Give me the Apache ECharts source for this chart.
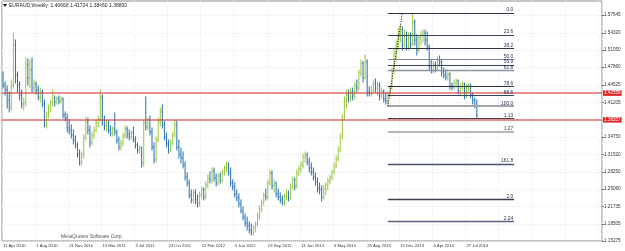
<!DOCTYPE html>
<html><head><meta charset="utf-8">
<script src="https://cdn.jsdelivr.net/npm/echarts@6/dist/echarts.min.js"></script>
<style>html,body{margin:0;padding:0;background:#fff}#c{width:625px;height:251px}</style>
</head><body><div id="c"></div>
<script>
// ---------- data (EURAUD weekly) ----------
const startDate = [2010, 3, 11]; // 11 Apr 2010, first visible weekly bar
const totalSlots = 290;          // visible bar slots incl. empty chart-shift area
const labelEvery = 16;           // a time label every 16 weeks

const opens = [
1.4641,1.4453,1.4360,1.4172,1.4022,1.4453,1.5203,1.4641,1.4453,1.4266,
1.4097,1.4116,1.4828,1.4585,1.4735,1.4397,1.4472,1.4360,1.4228,1.4322,
1.4097,1.3703,1.3891,1.4022,1.4116,1.4210,1.4135,1.4191,1.4153,1.4191,
1.3891,1.3835,1.3647,1.3610,1.3516,1.3422,1.3328,1.3160,1.3010,1.3141,
1.3460,1.3760,1.3610,1.3366,1.3516,1.3610,1.3741,1.3816,1.4228,1.3797,
1.3685,1.3741,1.3610,1.3553,1.3628,1.3572,1.3422,1.3291,1.3366,1.3497,
1.3628,1.3535,1.3478,1.3553,1.3422,1.3328,1.3235,1.3272,1.2991,1.3741,
1.3666,1.3797,1.3572,1.3291,1.3047,1.3422,1.3760,1.3947,1.3703,1.3478,
1.3347,1.3235,1.3366,1.3516,1.3703,1.3291,1.3141,1.3085,1.2953,1.2728,
1.2616,1.2391,1.2297,1.2428,1.2297,1.2241,1.2391,1.2485,1.2353,1.2578,
1.2710,1.2672,1.2841,1.2710,1.2616,1.2747,1.2672,1.2822,1.2897,1.2953,
1.2822,1.2616,1.2541,1.2410,1.2335,1.2222,1.2091,1.1978,1.1866,1.1810,
1.1735,1.1697,1.1772,1.1847,1.1997,1.2128,1.2241,1.2372,1.2353,1.2616,
1.2803,1.2560,1.2597,1.2410,1.2353,1.2297,1.2241,1.2372,1.2428,1.2335,
1.2541,1.2672,1.2560,1.2803,1.2878,1.2953,1.3103,1.3141,1.3010,1.2897,
1.2822,1.2728,1.2635,1.2522,1.2485,1.2353,1.2503,1.2560,1.2653,1.2728,
1.2822,1.2935,1.3066,1.3235,1.3478,1.3835,1.4172,1.4266,1.4210,1.4322,
1.4247,1.4435,1.4397,1.4678,1.4866,1.4585,1.4885,1.4322,1.4303,1.4360,
1.4491,1.4397,1.4453,1.4247,1.4341,1.4191,1.4153,1.4285,1.4397,1.4716,
1.5053,1.5222,1.5428,1.5485,1.5203,1.5391,1.5185,1.5335,1.5222,1.5635,
1.5297,1.5110,1.5335,1.5391,1.5428,1.5297,1.5166,1.4810,1.4735,1.4828,
1.4772,1.4922,1.4885,1.4697,1.4641,1.4603,1.4660,1.4435,1.4416,1.4491,
1.4528,1.4341,1.4416,1.4472,1.4247,1.4397,1.4435,1.4266,1.4172,1.40668];

const highs = [
1.4697,1.4510,1.4435,1.4322,1.4547,1.5428,1.5297,1.4697,1.4510,1.4360,
1.4210,1.4960,1.4941,1.4922,1.4960,1.4547,1.4510,1.4435,1.4397,1.4360,
1.4172,1.3947,1.4078,1.4172,1.4360,1.4247,1.4228,1.4247,1.4228,1.4210,
1.3947,1.3910,1.3797,1.3703,1.3610,1.3497,1.3366,1.3235,1.3197,1.3516,
1.3853,1.3835,1.3685,1.3572,1.3666,1.3797,1.3872,1.4360,1.4266,1.3872,
1.3797,1.3778,1.3685,1.3666,1.3928,1.3610,1.3478,1.3422,1.3553,1.3685,
1.3666,1.3610,1.3591,1.3666,1.3478,1.3366,1.3310,1.3291,1.3797,1.4228,
1.3835,1.3872,1.3647,1.3366,1.3478,1.3835,1.4022,1.4078,1.3778,1.3553,
1.3422,1.3422,1.3572,1.3797,1.3778,1.3422,1.3272,1.3197,1.3010,1.2803,
1.2672,1.2485,1.2485,1.2485,1.2391,1.2447,1.2541,1.2522,1.2635,1.2766,
1.2822,1.2897,1.2897,1.2785,1.2785,1.2803,1.2860,1.2935,1.3010,1.2991,
1.2897,1.2672,1.2616,1.2485,1.2410,1.2297,1.2166,1.2035,1.1978,1.1885,
1.1847,1.1810,1.1885,1.2053,1.2185,1.2297,1.2428,1.2503,1.2672,1.2860,
1.2841,1.2672,1.2635,1.2503,1.2428,1.2372,1.2410,1.2485,1.2466,1.2597,
1.2728,1.2710,1.2860,1.2935,1.3010,1.3160,1.3197,1.3178,1.3085,1.2991,
1.2897,1.2803,1.2710,1.2616,1.2560,1.2560,1.2616,1.2710,1.2766,1.2860,
1.2991,1.3122,1.3291,1.3535,1.3891,1.4228,1.4360,1.4360,1.4397,1.4397,
1.4491,1.4547,1.4735,1.4922,1.4885,1.5016,1.4922,1.4416,1.4435,1.4547,
1.4566,1.4510,1.4491,1.4397,1.4360,1.4303,1.4322,1.4435,1.4772,1.5110,
1.5297,1.5522,1.5560,1.5541,1.5485,1.5447,1.5428,1.5428,1.5803,1.5672,
1.5391,1.5372,1.5466,1.5485,1.5485,1.5447,1.5203,1.4922,1.4885,1.4885,
1.4978,1.4997,1.4922,1.4772,1.4735,1.4697,1.4678,1.4491,1.4547,1.4566,
1.4547,1.4472,1.4510,1.4491,1.4453,1.4472,1.4472,1.4303,1.4210,1.41724];

const lows = [
1.4397,1.4266,1.4022,1.3947,1.3985,1.4397,1.4491,1.4322,1.4172,1.4022,
1.3985,1.4060,1.4453,1.4397,1.4322,1.4322,1.4285,1.4172,1.4135,1.4041,
1.3666,1.3647,1.3835,1.3947,1.4060,1.4060,1.4097,1.4097,1.4116,1.3835,
1.3778,1.3572,1.3535,1.3460,1.3347,1.3272,1.3103,1.2953,1.2953,1.3085,
1.3422,1.3535,1.3291,1.3328,1.3460,1.3572,1.3666,1.3778,1.3703,1.3610,
1.3591,1.3553,1.3497,1.3497,1.3516,1.3366,1.3235,1.3235,1.3310,1.3460,
1.3460,1.3422,1.3441,1.3385,1.3272,1.3178,1.3178,1.2916,1.2935,1.3610,
1.3610,1.3516,1.3235,1.2991,1.3010,1.3385,1.3685,1.3647,1.3422,1.3291,
1.3178,1.3197,1.3328,1.3478,1.3235,1.3085,1.2991,1.2897,1.2672,1.2560,
1.2335,1.2241,1.2241,1.2222,1.2166,1.2185,1.2335,1.2297,1.2316,1.2522,
1.2616,1.2616,1.2653,1.2560,1.2578,1.2616,1.2635,1.2766,1.2822,1.2766,
1.2560,1.2485,1.2353,1.2278,1.2166,1.2053,1.1922,1.1810,1.1735,1.1678,
1.1641,1.1641,1.1697,1.1810,1.1941,1.2072,1.2203,1.2297,1.2316,1.2578,
1.2503,1.2447,1.2353,1.2297,1.2241,1.2203,1.2203,1.2297,1.2278,1.2316,
1.2503,1.2485,1.2522,1.2747,1.2822,1.2897,1.3010,1.2953,1.2822,1.2766,
1.2672,1.2578,1.2447,1.2410,1.2278,1.2316,1.2391,1.2485,1.2597,1.2672,
1.2785,1.2897,1.3028,1.3197,1.3441,1.3797,1.4022,1.4135,1.4153,1.4172,
1.4191,1.4322,1.4360,1.4622,1.4510,1.4566,1.4247,1.4247,1.4247,1.4303,
1.4322,1.4266,1.4172,1.4210,1.4135,1.4097,1.4055,1.4228,1.4360,1.4678,
1.4922,1.5110,1.5260,1.5110,1.5166,1.5110,1.5110,1.5147,1.5185,1.5203,
1.5016,1.5072,1.5203,1.5260,1.5203,1.5110,1.4735,1.4678,1.4678,1.4697,
1.4735,1.4810,1.4622,1.4585,1.4547,1.4547,1.4378,1.4360,1.4378,1.4416,
1.4285,1.4247,1.4360,1.4191,1.4210,1.4322,1.4210,1.4097,1.4022,1.38460];

const closes = [
1.4453,1.4360,1.4172,1.4022,1.4453,1.5203,1.4641,1.4453,1.4266,1.4097,
1.4116,1.4828,1.4585,1.4735,1.4397,1.4472,1.4360,1.4228,1.4322,1.4097,
1.3703,1.3891,1.4022,1.4116,1.4210,1.4135,1.4191,1.4153,1.4191,1.3891,
1.3835,1.3647,1.3610,1.3516,1.3422,1.3328,1.3160,1.3010,1.3141,1.3460,
1.3760,1.3610,1.3366,1.3516,1.3610,1.3741,1.3816,1.4228,1.3797,1.3685,
1.3741,1.3610,1.3553,1.3628,1.3572,1.3422,1.3291,1.3366,1.3497,1.3628,
1.3535,1.3478,1.3553,1.3422,1.3328,1.3235,1.3272,1.2991,1.3741,1.3666,
1.3797,1.3572,1.3291,1.3047,1.3422,1.3760,1.3947,1.3703,1.3478,1.3347,
1.3235,1.3366,1.3516,1.3703,1.3291,1.3141,1.3085,1.2953,1.2728,1.2616,
1.2391,1.2297,1.2428,1.2297,1.2241,1.2391,1.2485,1.2353,1.2578,1.2710,
1.2672,1.2841,1.2710,1.2616,1.2747,1.2672,1.2822,1.2897,1.2953,1.2822,
1.2616,1.2541,1.2410,1.2335,1.2222,1.2091,1.1978,1.1866,1.1810,1.1735,
1.1697,1.1772,1.1847,1.1997,1.2128,1.2241,1.2372,1.2353,1.2616,1.2803,
1.2560,1.2597,1.2410,1.2353,1.2297,1.2241,1.2372,1.2428,1.2335,1.2541,
1.2672,1.2560,1.2803,1.2878,1.2953,1.3103,1.3141,1.3010,1.2897,1.2822,
1.2728,1.2635,1.2522,1.2485,1.2353,1.2503,1.2560,1.2653,1.2728,1.2822,
1.2935,1.3066,1.3235,1.3478,1.3835,1.4172,1.4266,1.4210,1.4322,1.4247,
1.4435,1.4397,1.4678,1.4866,1.4585,1.4885,1.4322,1.4303,1.4360,1.4491,
1.4397,1.4453,1.4247,1.4341,1.4191,1.4153,1.4285,1.4397,1.4716,1.5053,
1.5222,1.5428,1.5485,1.5203,1.5391,1.5185,1.5335,1.5222,1.5635,1.5297,
1.5110,1.5335,1.5391,1.5428,1.5297,1.5166,1.4810,1.4735,1.4828,1.4772,
1.4922,1.4885,1.4697,1.4641,1.4603,1.4660,1.4435,1.4416,1.4491,1.4528,
1.4341,1.4416,1.4472,1.4247,1.4397,1.4435,1.4266,1.4172,1.40668,1.38800];

const yTickValues = [1.57645,1.54320,1.51050,1.47860,1.44525,1.41205,1.34750,1.31520,1.28250,1.25060,1.21735,1.18505,1.15275];
const yMin = 1.15275, yMax = 1.60278;

// Fibonacci object (anchored on the Oct 2013 low and the Jan 2014 high)
const fibHigh = 1.5802, fibLow = 1.4055;
const fibStartBar = 186, fibEndSlot = 246.5, fibTopBar = 192.7;
const fibRatios = [0, 0.236, 0.382, 0.5, 0.559, 0.618, 0.786, 0.886, 1, 1.13, 1.27, 1.618, 2.0, 2.24];
const fibLabels = ['0.0','23.6','38.2','50.0','55.9','61.8','78.6','88.6','100.0','1.13','1.27','161.8','2.0','2.24'];

const redLevels = [1.42556, 1.38357];
const bidPrice = 1.38800;
const titleText = 'EURAUD,Weekly  1.40668 1.41724 1.38460 1.38800';

// ---------- styles ----------
const bullColor = '#9BC53D', bearColor = '#2470B2';
const fibStyle = {
  '0.0':['#2d3445',1.2], '23.6':['#3a4255',1.2], '38.2':['#2d3445',1.2], '50.0':['#7d8598',1.2],
  '55.9':['#3a4255',1.2], '61.8':['#8b92a2',1.4], '78.6':['#2d3445',1.2], '88.6':['#3a4255',1.2],
  '100.0':['#a3a6ab',2], '1.13':['#3a4255',1.2], '1.27':['#b5b7ba',2], '161.8':['#4b5572',1.3],
  '2.0':['#3a4050',1.3], '2.24':['#5a5f80',1.3]
};
const FONT = 'Liberation Sans, Arial, sans-serif';

// ---------- build ----------
const months = ['Jan','Feb','Mar','Apr','May','Jun','Jul','Aug','Sep','Oct','Nov','Dec'];
const nBars = closes.length;
const categories = [];
for (let i = 0; i < totalSlots; i++) {
  if (i < nBars) {
    const d = new Date(Date.UTC(startDate[0], startDate[1], startDate[2] + 7 * i));
    categories.push(d.getUTCDate() + ' ' + months[d.getUTCMonth()] + ' ' + d.getUTCFullYear());
  } else categories.push('');
}
const ohlc = closes.map((c, i) => [i, opens[i], highs[i], lows[i], c]);

const fibLines = fibRatios.map((r, k) => {
  const p = fibHigh - r * (fibHigh - fibLow);
  const st = fibStyle[fibLabels[k]];
  return [
    { coord: [fibStartBar, p], lineStyle: { color: st[0], width: st[1], type: 'solid' },
      label: { show: true, formatter: fibLabels[k], position: 'insideEndTop', distance: [1, 0.5],
               color: '#1e2a55', fontSize: 4.8, fontFamily: FONT } },
    { coord: [fibEndSlot, p] }
  ];
});
const trendLine = [
  { coord: [fibStartBar, fibLow], lineStyle: { color: '#000', width: 1, type: [1, 1.5] }, label: { show: false } },
  { coord: [fibTopBar, fibHigh] }
];
const priceLabels = [
  { yAxis: bidPrice, lineStyle: { opacity: 0 },
    label: { show: true, position: 'end', distance: 1, formatter: bidPrice.toFixed(5), color: '#fff',
             backgroundColor: '#111', padding: [0.5, 1, 0, 1], fontSize: 4.6, fontFamily: FONT } }
].concat(redLevels.map(v => ({
  yAxis: v, lineStyle: { color: 'rgba(214,70,70,0.6)', width: 2, type: 'solid' },
  label: { show: true, position: 'end', distance: 1, formatter: v.toFixed(5), color: '#fff',
           backgroundColor: '#e02424', padding: [0.5, 1, 0, 1], fontSize: 4.6, fontFamily: FONT }
})));

const chart = echarts.init(document.getElementById('c'), null, { renderer: 'canvas' });
chart.setOption({
  animation: false,
  backgroundColor: '#fff',
  grid: { left: 2, right: 23, top: 1, bottom: 10, show: true, borderColor: '#8c8c8c', borderWidth: 1,
          containLabel: false, outerBoundsMode: 'none' },
  xAxis: {
    type: 'category', data: categories, boundaryGap: true,
    axisLine: { show: false }, axisTick: { show: false },
    axisLabel: { interval: (idx, val) => idx % labelEvery === 0 && val !== '', align: 'left',
                 fontSize: 4.2, color: '#333', margin: 3, fontFamily: FONT },
    splitLine: { show: true, interval: (idx) => idx % labelEvery === 0,
                 lineStyle: { color: '#ececec', width: 1, type: 'dotted' } }
  },
  yAxis: {
    type: 'value', position: 'right', min: yMin, max: yMax, scale: true,
    axisLine: { show: false },
    axisTick: { show: true, length: 2, customValues: yTickValues, lineStyle: { color: '#666' } },
    axisLabel: { customValues: yTickValues, formatter: v => v.toFixed(5), fontSize: 4.6, color: '#333',
                 margin: 2, fontFamily: FONT },
    splitLine: { show: true, lineStyle: { color: '#ececec', width: 1, type: 'dotted' } }
  },
  graphic: [
    { type: 'polygon', shape: { points: [[3, 4], [7, 4], [5, 7]] }, style: { fill: '#111' } },
    { type: 'text', x: 9, y: 6, style: { text: titleText, fontSize: 5, fontFamily: FONT, fill: '#222', verticalAlign: 'middle' } },
    { type: 'text', x: 61, y: 237, style: { text: 'MetaQuotes Software Corp.', fontSize: 5, fontFamily: FONT, fill: '#555', verticalAlign: 'middle' } }
  ],
  series: [
    {
      type: 'custom', name: 'EURAUD', data: ohlc, clip: true,
      encode: { x: 0, y: [1, 2, 3, 4] },
      renderItem: function (params, api) {
        const x = api.value(0), o = api.value(1), h = api.value(2), l = api.value(3), c = api.value(4);
        const ph = api.coord([x, h]), pl = api.coord([x, l]), po = api.coord([x, o]), pc = api.coord([x, c]);
        const col = c >= o ? bullColor : bearColor;
        const cx = ph[0];
        const st = { stroke: col, lineWidth: 1 };
        return { type: 'group', children: [
          { type: 'line', shape: { x1: cx, y1: ph[1] - 0.5, x2: cx, y2: pl[1] + 0.5 }, style: st },
          { type: 'line', shape: { x1: cx - 0.8, y1: po[1], x2: cx, y2: po[1] }, style: st },
          { type: 'line', shape: { x1: cx, y1: pc[1], x2: cx + 0.8, y2: pc[1] }, style: st }
        ] };
      },
      z: 3
    },
    {
      type: 'line', data: [], z: 4,
      markLine: { silent: true, symbol: ['none', 'none'], animation: false,
                  data: fibLines.concat([trendLine]).concat(priceLabels) }
    }
  ]
});
</script></body></html>
